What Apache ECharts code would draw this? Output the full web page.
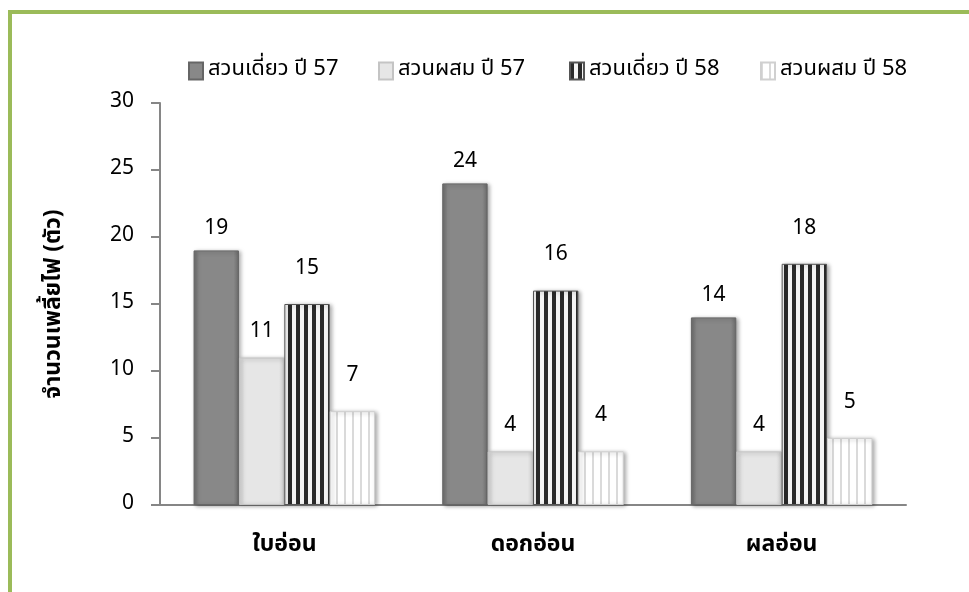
<!DOCTYPE html>
<html>
<head>
<meta charset="utf-8">
<style>
  html, body { margin: 0; padding: 0; background: #fff; }
  #chart { width: 969px; height: 592px; }
</style>
<script src="https://cdn.jsdelivr.net/npm/echarts@6/dist/echarts.min.js"></script>
</head>
<body>
<div id="chart"></div>
<script>
const categories = ['ใบอ่อน', 'ดอกอ่อน', 'ผลอ่อน']
const seriesNames = ['สวนเดี่ยว ปี 57', 'สวนผสม ปี 57', 'สวนเดี่ยว ปี 58', 'สวนผสม ปี 58']
const single57 = [19, 24, 14]
const mixed57 = [11, 4, 4]
const single58 = [15, 16, 18]
const mixed58 = [7, 4, 5]

const FONT = 'Tahoma, "Noto Sans Thai", "DejaVu Sans", sans-serif'

// vertical stripe pattern
function stripes(bg, fg, period, w) {
  const c = document.createElement('canvas')
  c.width = period
  c.height = 8
  const ctx = c.getContext('2d')
  ctx.fillStyle = bg
  ctx.fillRect(0, 0, period, 8)
  ctx.fillStyle = fg
  ctx.fillRect(0, 0, w, 8)
  return { image: c, repeat: 'repeat' }
}

// darker side edges to hint at the bevel look
function bevel(edge, mid) {
  return new echarts.graphic.LinearGradient(0, 0, 1, 0, [
    { offset: 0, color: edge },
    { offset: 0.12, color: mid },
    { offset: 0.88, color: mid },
    { offset: 1, color: edge }
  ])
}

const chart = echarts.init(document.getElementById('chart'))

const shadow = {
  shadowColor: 'rgba(0,0,0,0.35)',
  shadowBlur: 4,
  shadowOffsetX: 2,
  shadowOffsetY: 1
}

function bar(name, data, color, border, dist) {
  return {
    name: name,
    type: 'bar',
    data: data,
    barGap: '0%',
    barCategoryGap: '27%',
    itemStyle: Object.assign({ color: color, borderColor: border, borderWidth: 1 }, shadow),
    label: {
      show: true,
      position: 'top',
      distance: dist,
      fontSize: 21,
      color: '#000',
      fontFamily: FONT
    }
  }
}

// one legend per item so each sits where the reference puts it
const legendLeft = [183, 373, 564, 755]
const legends = seriesNames.map(function(n, i) {
  return {
    top: 55,
    left: legendLeft[i],
    icon: 'rect',
    itemWidth: 14,
    itemHeight: 17,
    itemGap: 6,
    textStyle: { fontSize: 22, color: '#000', fontFamily: FONT },
    data: [n]
  }
})

chart.setOption({
  animation: false,
  graphic: [{
    type: 'polyline',
    shape: { points: [[10, 592], [10, 12], [969, 12]] },
    style: { stroke: '#9bbb59', lineWidth: 4, fill: null }
  }],
  legend: legends,
  grid: { left: 160, right: 63, top: 103, bottom: 87 },
  xAxis: {
    type: 'category',
    data: categories,
    axisLine: { lineStyle: { color: '#868686', width: 2 } },
    axisTick: { length: 9, lineStyle: { color: '#868686', width: 2 } },
    axisLabel: { fontSize: 23, fontWeight: 'bold', color: '#000', margin: 30, fontFamily: FONT }
  },
  yAxis: {
    type: 'value',
    min: 0,
    max: 30,
    interval: 5,
    name: 'จำนวนเพลี้ยไฟ (ตัว)',
    nameLocation: 'middle',
    nameRotate: 90,
    nameGap: 93,
    nameTextStyle: { fontSize: 23, fontWeight: 'bold', color: '#000', fontFamily: FONT },
    splitLine: { show: false },
    axisLine: { show: true, lineStyle: { color: '#868686', width: 2 } },
    axisTick: { show: true, length: 9, lineStyle: { color: '#868686', width: 2 } },
    axisLabel: { fontSize: 21, color: '#000', margin: 26, fontFamily: FONT }
  },
  series: [
    bar(seriesNames[0], single57, bevel('#6c6c6c', '#888888'), '#666', 10),
    bar(seriesNames[1], mixed57, bevel('#cfcfcf', '#e6e6e6'), '#c4c4c4', 14),
    bar(seriesNames[2], single58, stripes('#f4f4f4', '#2a2a2a', 8, 4), '#555', 24),
    bar(seriesNames[3], mixed58, stripes('#ffffff', '#dadada', 8, 2), '#d0d0d0', 24)
  ]
})
</script>
</body>
</html>
